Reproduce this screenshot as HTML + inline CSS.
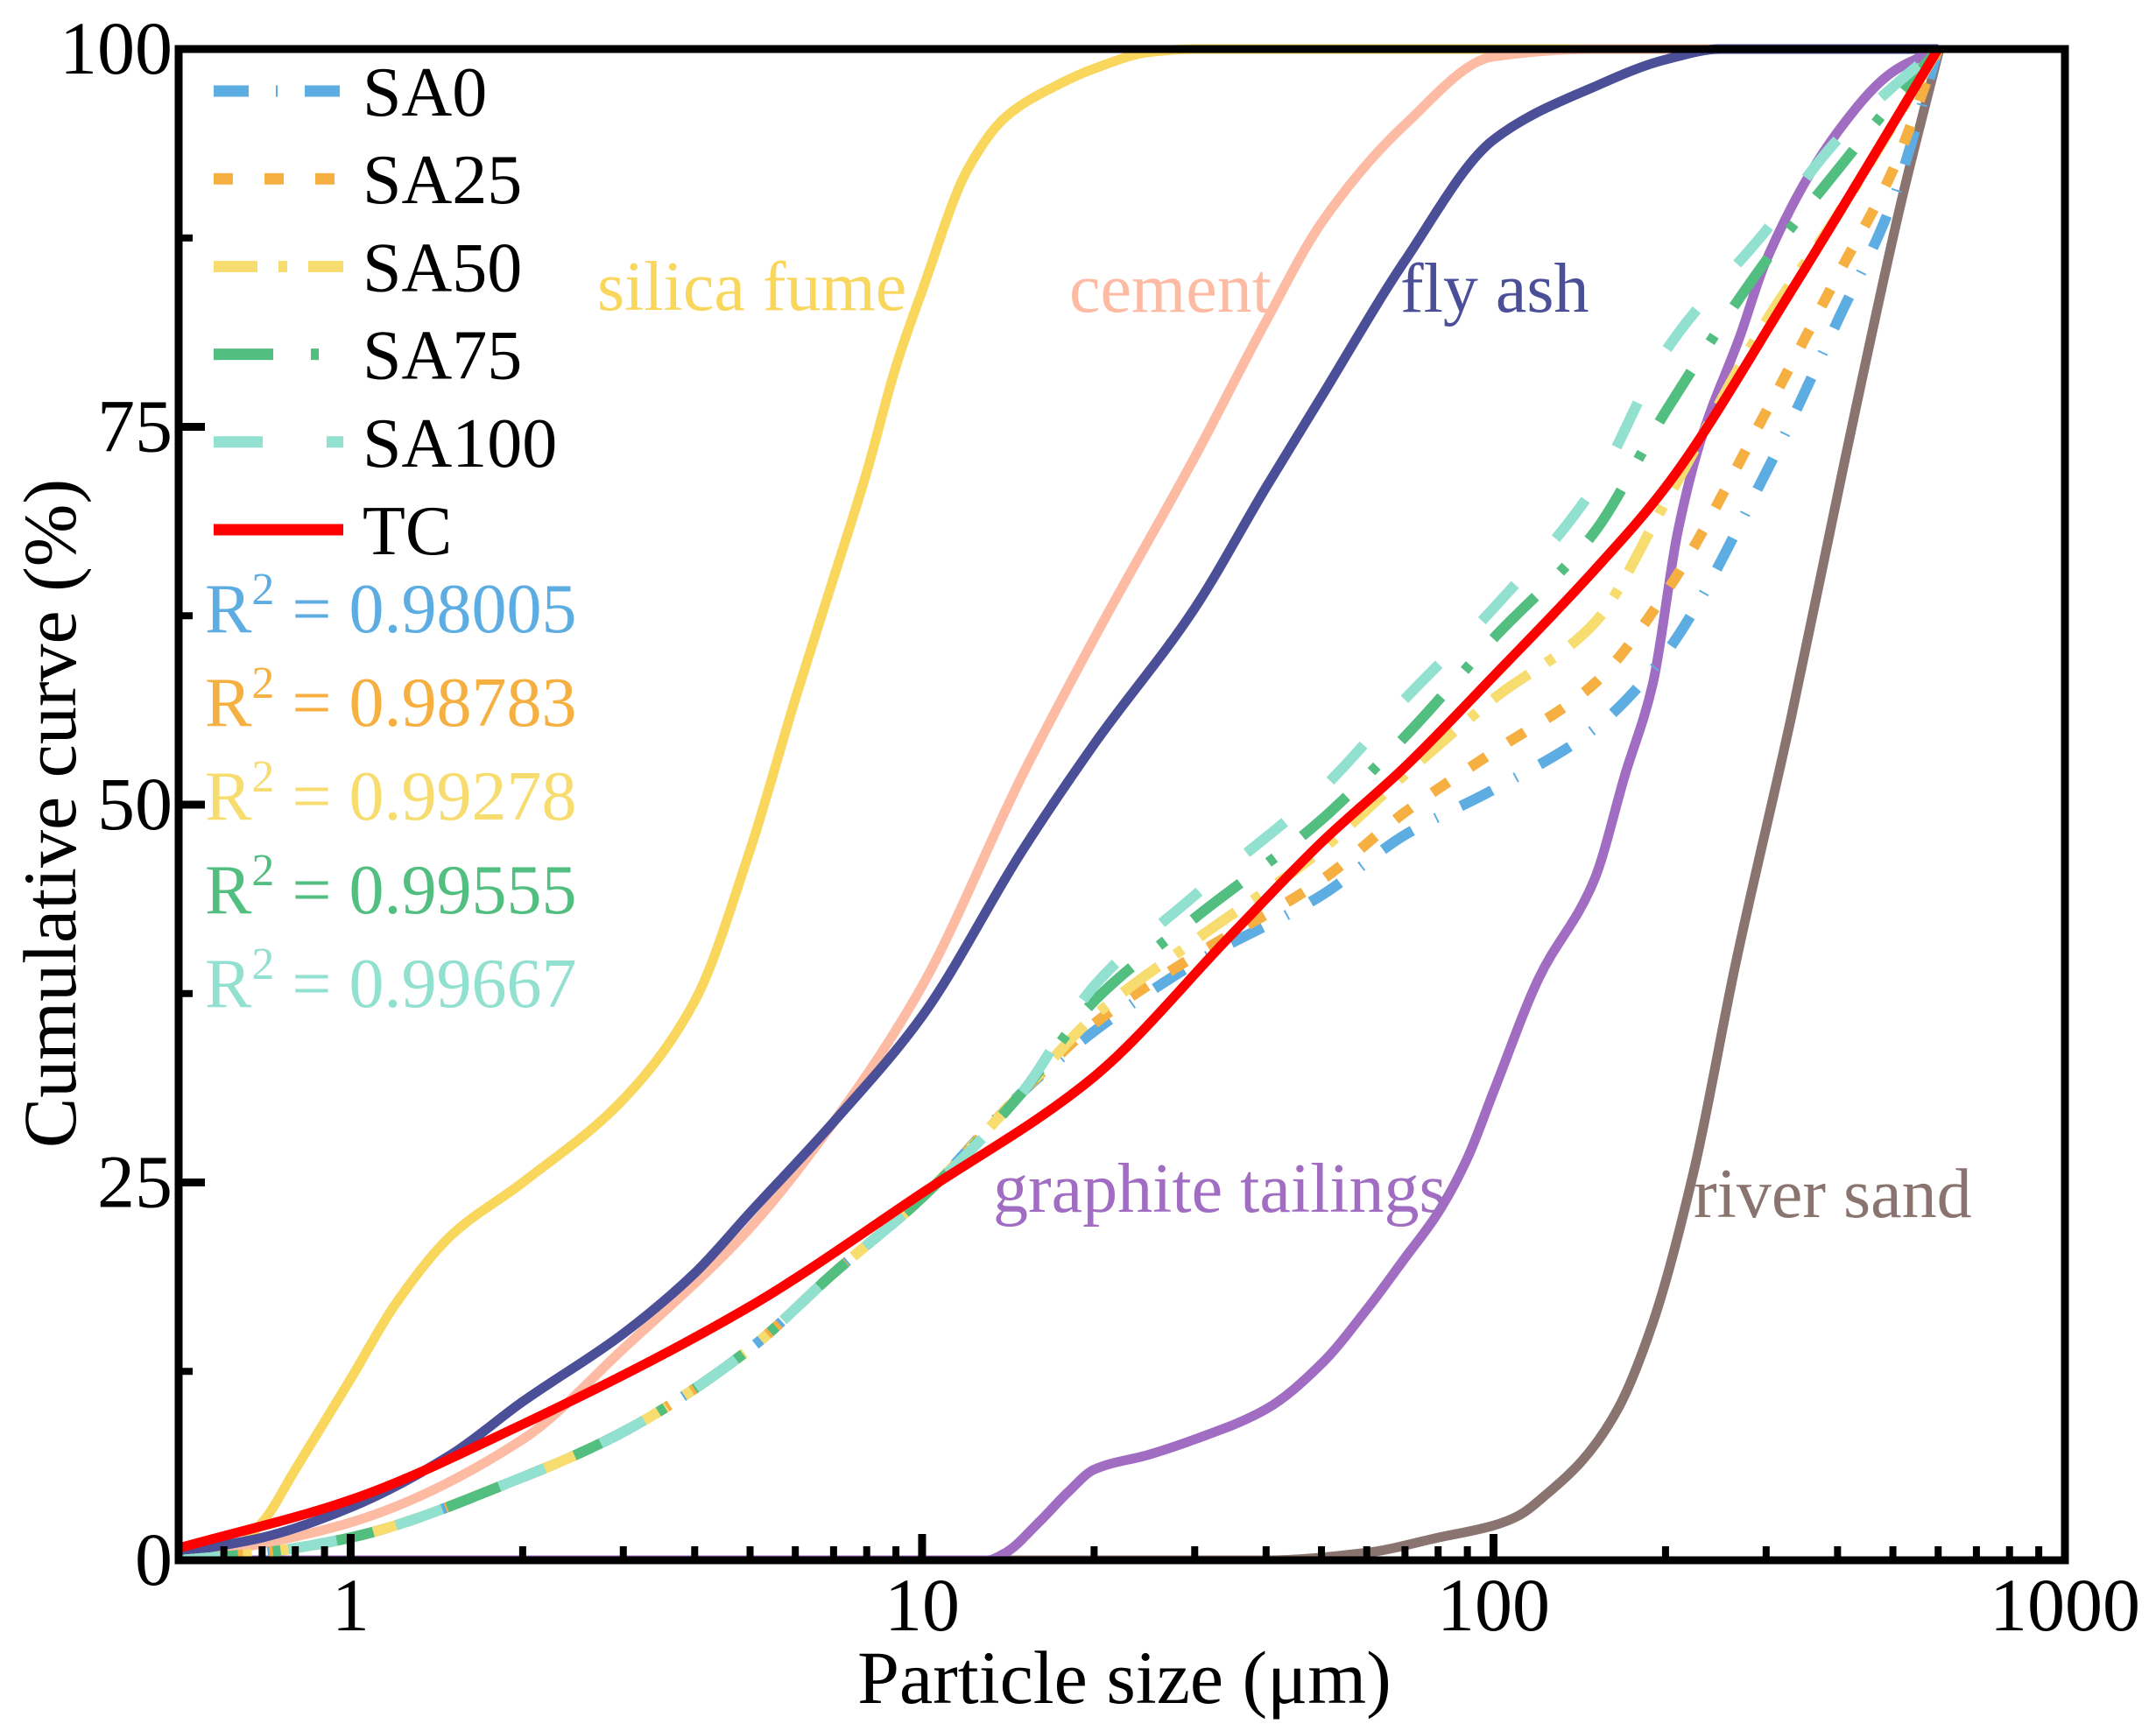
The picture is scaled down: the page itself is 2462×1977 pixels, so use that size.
<!DOCTYPE html>
<html><head><meta charset="utf-8">
<style>
html,body{margin:0;padding:0;background:#fff;}
svg{display:block;font-family:"Liberation Serif",serif;}
</style></head>
<body>
<svg id="chart" width="2462" height="1977" viewBox="0 0 2462 1977" xmlns="http://www.w3.org/2000/svg">
<g id="grid"></g>
<g id="curves"></g>
<g id="axes"></g>
<g id="legend"></g>
</svg>
<script>
// ---- data ----
const sfX=[0.5,0.6,0.7,0.8,1,1.2,1.5,2,3,4,5,6,7,8,9,10,12,14,17,20,25,30,600];
const sfY=[0,0.3,2.5,6,12,17,21.5,25,30.5,37,47,57,65,72,79,84,92,95.5,97.5,98.7,99.8,100,100];
const ceX=[0.5,1,2,3,5,7,10,15,20,30,40,50,70,100,150,600];
const ceY=[0,2.5,8,14,22,29,38,52,61,73,82,88.5,95,99.5,100,100];
const faX=[0.5,0.7,1,1.5,2,3,4,5,7,10,15,20,30,40,50,70,100,150,200,250,600];
const faY=[0.5,1.5,3.5,7,10.5,15,19,23,29,36,47,54,63,71,77,86,94,97.5,99.3,100,100];
const tcX=[0.5,1,2,5,10,20,35,50,70,100,150,200,332,600];
const tcY=[0.8,4,9,16.8,24.3,32,41.5,47.5,52.5,58.5,65.5,71,84,100];
const saX=[0.5,0.7,1,2,3,5,7,10,15,20,30,50,70,100,150,200,300,400,500,600];
const sa0Y=[0,0.5,1.5,5.5,8.5,14,19,24,31,35,39.5,44,48,51,55,60,72,82,90,100];
const sa25Y=[0,0.5,1.5,5.5,8.5,14,19,24,31,35.5,40,45,49.5,53.5,58,64,76,85,92,100];
const sa50Y=[0,0.5,1.5,5.5,8.5,14,19,24,31,36,41,47,52,57,62,70,82,89,95,100];
const sa75Y=[0,0.5,1.5,5.5,8.5,14,19,24,31,37,42.5,49,54.5,61,68,76,86,92,96.5,100];
const sa100Y=[0,0.5,1.5,5.5,8.5,14,19,24,31,38,44,51,57,63,71,80,88,94,97.5,100];
const gtX=[0.5,13,14,16,18,20,25,30,40,50,60,70,80,90,100,120,150,170,190,210,230,270,300,400,500,600];
const gtY=[0,0,0.5,2.5,4.5,6,7,8,10,13,16.6,20,23,26.6,31,38.5,45,52,58,68,74,81,86,94.5,98.5,100];
const rsX=[0.5,40,60,80,100,110,125,143,165,190,224,265,332,413,515,603];
const rsY=[0,0,0.5,1.5,2.3,2.9,4.5,6.6,10,15.7,25.7,39.4,55.8,73,89.6,100];
const yTicks=[0,25,50,75,100];
const yMinor=[12.5,37.5,62.5,87.5];
const xTicks=[1,10,100,1000];
const xTickLabels=["1","10","100","1000"];

// ---- scales ----
const L=204,R=2358,T=56,B=1782;
const XMIN=0.5,XMAX=1000;
function sx(v){return L+(Math.log10(v)-Math.log10(XMIN))/(Math.log10(XMAX)-Math.log10(XMIN))*(R-L);}
function sy(v){return B-(v/100)*(B-T);}
const NS="http://www.w3.org/2000/svg";
function mk(tag,attrs,parent){const e=document.createElementNS(NS,tag);for(const k in attrs)e.setAttribute(k,attrs[k]);parent.appendChild(e);return e;}

// monotone cubic (Fritsch-Carlson) in pixel space
function pathFrom(xs,ys){
  const X=xs.map(sx),Y=ys.map(sy),n=X.length;
  const d=[],m=new Array(n);
  for(let i=0;i<n-1;i++)d.push((Y[i+1]-Y[i])/(X[i+1]-X[i]));
  m[0]=d[0];m[n-1]=d[n-2];
  for(let i=1;i<n-1;i++){
    if(d[i-1]*d[i]<=0)m[i]=0;
    else{const h0=X[i]-X[i-1],h1=X[i+1]-X[i];const w1=2*h1+h0,w2=h1+2*h0;m[i]=(w1+w2)/(w1/d[i-1]+w2/d[i]);}
  }
  let s="M"+X[0].toFixed(1)+","+Y[0].toFixed(1);
  for(let i=0;i<n-1;i++){
    const h=(X[i+1]-X[i])/3;
    s+=" C"+(X[i]+h).toFixed(1)+","+(Y[i]+m[i]*h).toFixed(1)+" "+(X[i+1]-h).toFixed(1)+","+(Y[i+1]-m[i+1]*h).toFixed(1)+" "+X[i+1].toFixed(1)+","+Y[i+1].toFixed(1);
  }
  return s;
}

const defs=mk("defs",{},document.getElementById("chart"));
const cp=mk("clipPath",{id:"clip"},defs);
mk("rect",{x:L,y:T-8,width:R-L,height:B-T+8},cp);

const curves=document.getElementById("curves");
curves.setAttribute("clip-path","url(#clip)");
const series=[
 {n:"silica-fume-curve",x:sfX,y:sfY,c:"#F9D65C",w:11,d:null},
 {n:"cement-curve",x:ceX,y:ceY,c:"#FDBBA4",w:11,d:null},
 {n:"fly-ash-curve",x:faX,y:faY,c:"#4A4F98",w:11,d:null},
 {n:"river-sand-curve",x:rsX,y:rsY,c:"#8A7470",w:11,d:null},
 {n:"graphite-tailings-curve",x:gtX,y:gtY,c:"#A06DC2",w:11,d:null},
 {n:"sa0-curve",x:saX,y:sa0Y,c:"#5DADE2",w:12,d:"40 30 2 30"},
 {n:"sa25-curve",x:saX,y:sa25Y,c:"#F5B041",w:12,d:"22 30"},
 {n:"sa50-curve",x:saX,y:sa50Y,c:"#F7DC6F",w:12,d:"50 24 10 24"},
 {n:"sa75-curve",x:saX,y:sa75Y,c:"#52BE80",w:12,d:"68 40 9 40"},
 {n:"sa100-curve",x:saX,y:sa100Y,c:"#92E0D0",w:12,d:"56 70"},
 {n:"tc-curve",x:tcX,y:tcY,c:"#FF0000",w:11,d:null}
];
series.forEach(s=>{
  const a={d:pathFrom(s.x,s.y),fill:"none",stroke:s.c,"stroke-width":s.w};
  if(s.d)a["stroke-dasharray"]=s.d;
  const e=mk("path",a,curves);
  
  
});

// annotations
const ann=[["silica fume",682,354,"#F9D65C","label-silica-fume"],["cement",1221,356,"#FDBBA4","label-cement"],
 ["fly ash",1599,356,"#4A4F98","label-fly-ash"],["graphite tailings",1134,1384,"#A06DC2","label-graphite-tailings"],
 ["river sand",1934,1390,"#8A7470","label-river-sand"]];
ann.forEach(a=>{
  const t=mk("text",{x:a[1],y:a[2],fill:a[3],"font-size":80},curves.parentNode);
  t.textContent=a[0];
  
  
});

// axes
const axes=document.getElementById("axes");
yTicks.forEach(v=>{
  const l=mk("line",{x1:L,x2:L+30,y1:sy(v),y2:sy(v),stroke:"#000","stroke-width":9},axes);
  
  
  const t=mk("text",{x:197,y:sy(v)+28,"text-anchor":"end","font-size":86},axes);
  t.textContent=String(v);
  
  
});
yMinor.forEach(v=>{
  const l=mk("line",{x1:L,x2:L+16,y1:sy(v),y2:sy(v),stroke:"#000","stroke-width":8},axes);
  
  
});
xTicks.forEach((v,i)=>{
  const l=mk("line",{x1:sx(v),x2:sx(v),y1:B,y2:B-30,stroke:"#000","stroke-width":9},axes);
  
  
  const t=mk("text",{x:sx(v),y:1862,"text-anchor":"middle","font-size":86},axes);
  t.textContent=xTickLabels[i];
  
  
});
for(let dec=0.1;dec<1000;dec*=10){
  for(let k=2;k<=9;k++){
    const v=dec*k; if(v<XMIN||v>XMAX)continue;
    const l=mk("line",{x1:sx(v),x2:sx(v),y1:B,y2:B-16,stroke:"#000","stroke-width":8},axes);
    
    
  }
}
const frame=mk("rect",{x:L,y:T,width:R-L,height:B-T,fill:"none",stroke:"#000","stroke-width":9},axes);


const xt=mk("text",{x:1284,y:1945,"text-anchor":"middle","font-size":86},axes);
xt.textContent="Particle size (μm)";


const yt=mk("text",{x:0,y:0,"text-anchor":"middle","font-size":86,transform:"translate(86,929) rotate(-90)"},axes);
yt.textContent="Cumulative curve (%)";



// legend
const lg=document.getElementById("legend");
const leg=[["SA0","#5DADE2","40 31 2 31"],["SA25","#F5B041","22 36"],["SA50","#F7DC6F","50 24 10 24"],
 ["SA75","#52BE80","68 43 9 43"],["SA100","#92E0D0","56 73"],["TC","#FF0000",null]];
leg.forEach((e,i)=>{
  const y=104+i*100.2;
  const a={x1:244,x2:392,y1:y,y2:y,stroke:e[1],"stroke-width":13};
  if(e[2])a["stroke-dasharray"]=e[2];
  const l=mk("line",a,lg);
  
  
  const t=mk("text",{x:414,y:y+28,"font-size":80},lg);
  t.textContent=e[0];
  
  
});
const r2=[["0.98005","#5DADE2"],["0.98783","#F5B041"],["0.99278","#F7DC6F"],["0.99555","#52BE80"],["0.99667","#92E0D0"]];
r2.forEach((e,i)=>{
  const y=722+i*107;
  const t=mk("text",{x:234,y:y,"font-size":80,fill:e[1]},lg);
  t.innerHTML='R<tspan dy="-32" font-size="52">2</tspan><tspan dy="32"> = '+e[0]+'</tspan>';
  
  
});
</script>
</body></html>
